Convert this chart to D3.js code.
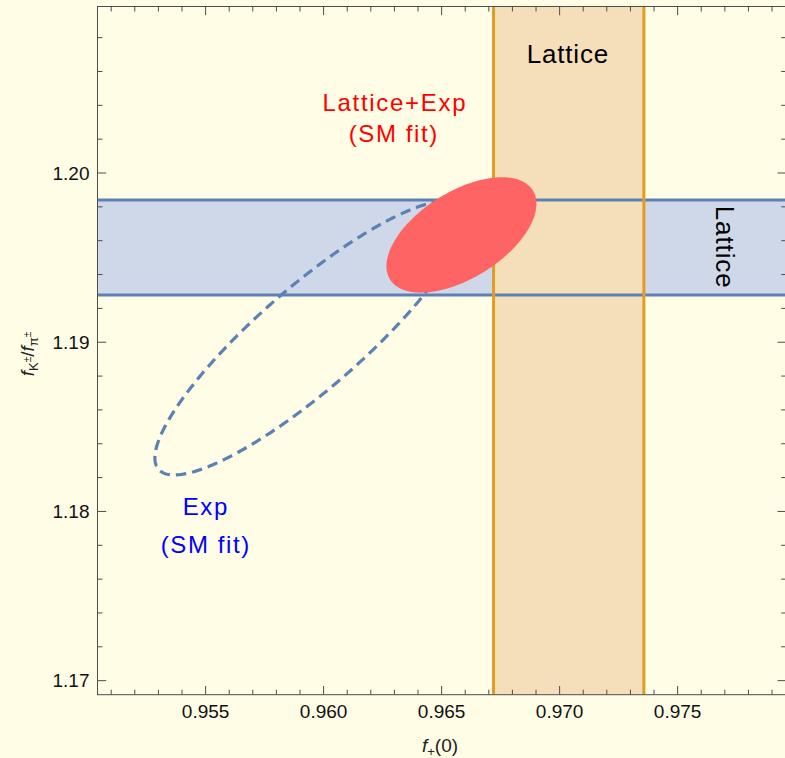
<!DOCTYPE html>
<html>
<head>
<meta charset="utf-8">
<script src="https://cdn.jsdelivr.net/npm/d3@7"></script>
<style>
  html, body { margin: 0; padding: 0; background: #FFFDE6; }
  svg { display: block; font-family: "Liberation Sans", Arial, sans-serif; }
</style>
</head>
<body>
<svg id="chart" width="785" height="758"></svg>
<script>
// Axis extents
const xDomain = [0.95042, 0.97960];
const yDomain = [1.16917, 1.20984];

// Tick values
const xMajorTicks = [0.955, 0.960, 0.965, 0.970, 0.975];
const xTickLabels = ["0.955", "0.960", "0.965", "0.970", "0.975"];
const xMinorTicks = d3.range(951, 980).map(v => v / 1000);
const yMajorTicks = [1.17, 1.18, 1.19, 1.20];
const yTickLabels = ["1.17", "1.18", "1.19", "1.20"];
const yMinorTicks = d3.range(585, 605).map(v => v / 500);

// Lattice bands
const latticeFplus = [0.96720, 0.97357];     // f+(0) range
const latticeRatio = [1.19279, 1.19840];     // fK/fpi range

// Fit ellipses: [centre x, centre y, half-extent x, half-extent y, correlation]
const expFit = [0.95942, 1.19025, 0.006568, 0.008095, 0.875];
const combinedFit = [0.96584, 1.19634, 0.003178, 0.003410, 0.54];

const svg = d3.select("#chart");
const W = 785, H = 758;
const pLeft = 97.5, pRight = 786.2, pTop = 6.5, pBottom = 694.7;

const x = d3.scaleLinear().domain(xDomain).range([pLeft, pRight]);
const y = d3.scaleLinear().domain(yDomain).range([pBottom, pTop]);

svg.append("rect").attr("width", W).attr("height", H).attr("fill", "#FFFDE6");

svg.append("clipPath").attr("id", "plotclip")
  .append("rect").attr("x", pLeft).attr("y", pTop)
  .attr("width", pRight - pLeft).attr("height", pBottom - pTop);

const plot = svg.append("g").attr("clip-path", "url(#plotclip)");

// band fills
plot.append("rect")
  .attr("x", pLeft).attr("width", pRight - pLeft)
  .attr("y", y(latticeRatio[1])).attr("height", y(latticeRatio[0]) - y(latticeRatio[1]))
  .attr("fill", "#CED8E9");
plot.append("rect")
  .attr("x", x(latticeFplus[0])).attr("width", x(latticeFplus[1]) - x(latticeFplus[0]))
  .attr("y", pTop).attr("height", pBottom - pTop)
  .attr("fill", "#F5DFBB");

// band edges
plot.append("g").selectAll("line").data(latticeRatio).join("line")
  .attr("x1", pLeft).attr("x2", pRight)
  .attr("y1", d => y(d)).attr("y2", d => y(d))
  .attr("stroke", "#5E81B5").attr("stroke-width", 3);
plot.append("g").selectAll("line").data(latticeFplus).join("line")
  .attr("x1", d => x(d)).attr("x2", d => x(d))
  .attr("y1", pTop).attr("y2", pBottom)
  .attr("stroke", "#E19C24").attr("stroke-width", 3);

// ellipse outline from centre, extents and correlation
function ellipsePoints(e) {
  const [cx, cy, a, b, r] = e;
  const s = Math.sqrt(1 - r * r);
  return d3.range(0, 360).map(i => {
    const t = i * Math.PI / 180;
    return [x(cx + a * Math.cos(t)), y(cy + b * (r * Math.cos(t) + s * Math.sin(t)))];
  });
}
const line = d3.line().curve(d3.curveLinearClosed);

plot.append("path")
  .attr("d", line(ellipsePoints(expFit)))
  .attr("fill", "none")
  .attr("stroke", "#5E81B5").attr("stroke-width", 3.2)
  .attr("stroke-dasharray", "10.5,6");

plot.append("path")
  .attr("d", line(ellipsePoints(combinedFit)))
  .attr("fill", "#FF6464").attr("stroke", "none");

// frame and ticks
const frame = svg.append("g").attr("stroke", "#4D4D4D").attr("stroke-width", 1);
frame.append("rect").attr("x", pLeft).attr("y", pTop)
  .attr("width", pRight - pLeft).attr("height", pBottom - pTop).attr("fill", "none");

const majLen = 8.7, minLen = 5;
xMinorTicks.forEach(v => {
  const isMajor = xMajorTicks.some(m => Math.abs(m - v) < 1e-9);
  const L = isMajor ? majLen : minLen;
  frame.append("line").attr("x1", x(v)).attr("x2", x(v)).attr("y1", pBottom).attr("y2", pBottom - L);
  frame.append("line").attr("x1", x(v)).attr("x2", x(v)).attr("y1", pTop).attr("y2", pTop + L);
});
yMinorTicks.forEach(v => {
  const isMajor = yMajorTicks.some(m => Math.abs(m - v) < 1e-9);
  const L = isMajor ? majLen : minLen;
  frame.append("line").attr("y1", y(v)).attr("y2", y(v)).attr("x1", pLeft).attr("x2", pLeft + L);
  frame.append("line").attr("y1", y(v)).attr("y2", y(v)).attr("x1", pRight).attr("x2", pRight - L);
});

// tick labels
svg.append("g").selectAll("text").data(xMajorTicks).join("text")
  .attr("x", d => x(d)).attr("y", 717.5)
  .attr("text-anchor", "middle").attr("font-size", 19).attr("fill", "#111")
  .text((d, i) => xTickLabels[i]);
svg.append("g").selectAll("text").data(yMajorTicks).join("text")
  .attr("x", 89.5).attr("y", d => y(d) + 6.8)
  .attr("text-anchor", "end").attr("font-size", 19).attr("fill", "#111")
  .text((d, i) => yTickLabels[i]);

// axis titles
const xt = svg.append("text").attr("x", 440).attr("y", 751.5)
  .attr("text-anchor", "middle").attr("font-size", 19).attr("fill", "#222");
xt.append("tspan").attr("font-style", "italic").text("f");
xt.append("tspan").attr("font-size", 13).attr("dy", 4).text("+");
xt.append("tspan").attr("dy", -4).text("(0)");

const yt = svg.append("text")
  .attr("transform", "translate(34,354) rotate(-90)")
  .attr("text-anchor", "middle").attr("font-size", 19).attr("fill", "#222");
yt.append("tspan").attr("font-style", "italic").text("f");
yt.append("tspan").attr("font-size", 13).attr("dy", 4).text("K");
yt.append("tspan").attr("font-size", 10).attr("dy", -7).text("±");
yt.append("tspan").attr("dy", 3).text("/");
yt.append("tspan").attr("font-style", "italic").text("f");
yt.append("tspan").attr("font-size", 13).attr("dy", 4).text("π");
yt.append("tspan").attr("font-size", 10).attr("dy", -7).text("±");

// annotations
function label(xp, yp, size, color, spacing, txt, rot) {
  const t = svg.append("text")
    .attr("text-anchor", "middle").attr("font-size", size).attr("fill", color)
    .attr("letter-spacing", spacing).text(txt);
  const shift = spacing / 2;
  if (rot) t.attr("transform", `translate(${xp},${yp + shift}) rotate(${rot})`);
  else t.attr("x", xp + shift).attr("y", yp);
  return t;
}
label(567.5, 63, 26, "#000", 0.8, "Lattice");
label(716, 246.7, 26, "#000", 0.9, "Lattice", 90);

label(394, 110.5, 24, "#FF0000", 1.7, "Lattice+Exp");
label(393, 141.5, 24, "#FF0000", 1.6, "(SM fit)");

label(205, 515, 24, "#0000FF", 1.6, "Exp");
label(205, 553, 24, "#0000FF", 1.6, "(SM fit)");
</script>
</body>
</html>
